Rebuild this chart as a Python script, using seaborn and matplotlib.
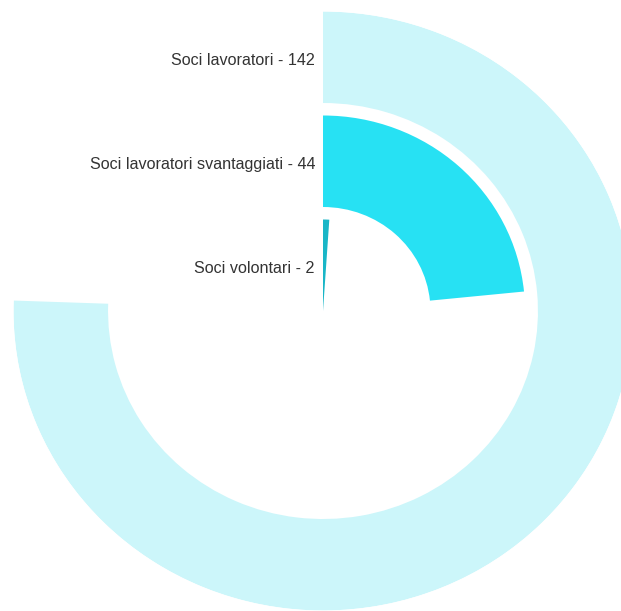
import numpy as np
import matplotlib
matplotlib.use("Agg")
import matplotlib.pyplot as plt
import seaborn as sns

# Membership categories, from the innermost ring outwards
categories = ["Soci volontari", "Soci lavoratori svantaggiati", "Soci lavoratori"]
values = [2, 44, 142]
colors = ["#19b6c7", "#27e1f3", "#ccf6fa"]

sns.set_theme(style="white")
plt.rcParams["font.family"] = ["Liberation Sans", "DejaVu Sans"]

W, H, DPI = 621, 611, 100
fig = plt.figure(figsize=(W / DPI, H / DPI), dpi=DPI, facecolor="white")

# Polar axes, slightly wider than tall; radius in pixel-like units
R = 299.5
RX = 309.5
cx, cy = 323, 311
ax = fig.add_axes([(cx - RX) / W, (H - cy - R) / H, 2 * RX / W, 2 * R / H],
                  projection="polar")
ax.set_aspect("auto")
ax.set_theta_zero_location("N")
ax.set_theta_direction(-1)
ax.set_ylim(0, R)

# The largest value sweeps a little past three quarters of the circle
max_angle = np.deg2rad(272)
step, thickness = 104, 91.5

vmax = max(values)
for i, (cat, val, col) in enumerate(zip(categories, values, colors)):
    sweep = val / vmax * max_angle
    bottom = i * step
    ax.bar(0, thickness, width=sweep, bottom=bottom, align="edge",
           color=col, edgecolor="none", linewidth=0)
    ax.annotate(f"{cat} - {val}", xy=(0, bottom + thickness / 2),
                xytext=(-8, -3), textcoords="offset pixels",
                ha="right", va="center", fontsize=11.6, color="#333333")

ax.set_xticks([])
ax.set_yticks([])
ax.grid(False)
ax.spines["polar"].set_visible(False)
ax.set_facecolor("none")

fig.savefig("out.png", dpi=DPI, facecolor="white")
